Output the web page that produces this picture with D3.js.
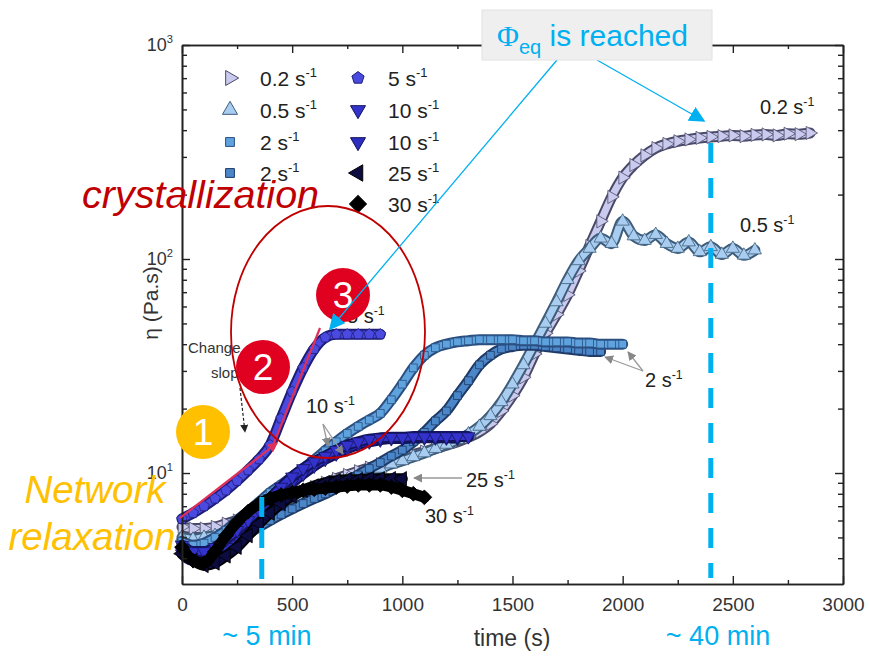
<!DOCTYPE html>
<html>
<head>
<meta charset="utf-8">
<script src="https://cdn.jsdelivr.net/npm/d3@7"></script>
<style>
  body { margin: 0; background: #fff; }
  svg { display: block; font-family: Arial, "Liberation Sans", sans-serif; }
</style>
</head>
<body>
<svg id="chart" width="869" height="658"></svg>
<script>
// sampling grid of the curves (s)
const timeGrid = [0, 50, 100, 150, 200, 250, 300, 350, 400, 450, 500, 550, 600, 650, 700, 750, 800, 850, 900, 950,
  1000, 1050, 1100, 1150, 1200, 1250, 1300, 1350, 1400, 1450, 1500, 1550, 1600, 1650, 1700, 1750, 1800, 1850, 1900, 1950,
  2000, 2050, 2100, 2150, 2200, 2250, 2300, 2350, 2400, 2450, 2500, 2550, 2600, 2650, 2700, 2750, 2800, 2850];

// viscosity (Pa.s)
const eta02 = [5.6, 5.5, 5.5, 5.6, 5.8, 6.0, 6.3, 6.6, 7.0, 7.4, 7.8, 8.2, 8.6, 9.0, 9.4, 9.8, 10.2, 10.6, 11.0, 11.4,
  11.8, 12.2, 12.6, 13.0, 13.5, 14.0, 14.7, 15.6, 17, 19.5, 23, 28, 36, 45, 55, 68, 88, 115, 150, 195,
  240, 275, 305, 330, 345, 355, 362, 368, 372, 375, 378, 375, 380, 382, 378, 385, 383, 388];
const eta05 = [5.0, 4.9, 5.0, 5.1, 5.3, 5.5, 5.8, 6.1, 6.5, 6.9, 7.3, 7.7, 8.1, 8.5, 8.9, 9.3, 9.7, 10.1, 10.5, 11.0,
  11.4, 11.9, 12.4, 13.0, 13.6, 14.3, 15.2, 16.5, 18.5, 21.5, 26, 32, 40, 50, 63, 80, 98, 112, 125, 118,
  150, 128, 122, 130, 118, 112, 120, 108, 114, 105, 112, 104, 110];
const eta2a = [4.8, 4.6, 4.7, 5.0, 5.4, 6.0, 6.6, 7.3, 8.1, 8.8, 9.6, 10.5, 11.5, 12.7, 14.0, 15.3, 16.5, 17.7, 19.0, 22,
  26, 31, 35.5, 38.5, 40, 41, 41.5, 42, 42, 42, 42, 41.5, 41.5, 41, 41, 41, 40.5, 40.5, 40, 40, 40];
const eta2b = [4.3, 4.1, 4.1, 4.3, 4.5, 4.8, 5.2, 5.6, 6.0, 6.4, 6.8, 7.2, 7.6, 8.0, 8.5, 9.1, 9.8, 10.5, 11.2, 12.0,
  12.8, 14.0, 15.5, 17.5, 19.5, 23, 27, 32, 35.5, 38, 39, 39.5, 39.5, 39, 38.5, 38, 37.5, 37, 37];
const eta5 = [6.1, 6.5, 7.0, 7.6, 8.3, 9.2, 10.3, 11.6, 13.5, 18, 24, 31, 38, 43, 44.5, 44.5, 44.5, 44.5, 44.5];
const eta10a = [4.6, 4.3, 4.3, 4.5, 4.9, 5.4, 6.0, 6.7, 7.6, 8.6, 9.6, 10.5, 11.3, 12.0, 12.8, 13.5, 14.0, 14.4, 14.6, 14.7,
  14.7, 14.8, 14.8, 14.8, 14.8, 14.8, 14.8];
const eta10b = [4.2, 3.9, 3.9, 4.1, 4.5, 5.0, 5.6, 6.3, 7.1, 8.0, 9.0, 9.9, 10.8, 11.6, 12.3, 13.0, 13.6, 14.0, 14.3, 14.5,
  14.5, 14.6, 14.6, 14.6, 14.6, 14.6];
const eta25 = [4.2, 3.9, 3.7, 3.8, 4.1, 4.5, 5.1, 5.8, 6.5, 7.2, 7.8, 8.3, 8.7, 9.0, 9.2, 9.3, 9.3, 9.4, 9.4, 9.4, 9.4];
const eta30 = [4.5, 3.9, 3.8, 4.3, 5.1, 5.9, 6.6, 7.2, 7.6, 7.9, 8.1, 8.3, 8.4, 8.5, 8.6, 8.7, 8.8, 8.8, 8.8, 8.6,
  8.3, 8.0, 7.7];

const legendRates = ['0.2', '0.5', '2', '2', '5', '10', '10', '25', '30'];
const xTicks = [0, 500, 1000, 1500, 2000, 2500, 3000];
const xMinor = [250, 750, 1250, 1750, 2250, 2750];
const yTicks = [10, 100, 1000];
const yMinor = [4, 5, 6, 7, 8, 9, 20, 30, 40, 50, 60, 70, 80, 90, 200, 300, 400, 500, 600, 700, 800, 900];

const svg = d3.select('#chart');
const x = d3.scaleLinear().domain([0, 3000]).range([182, 843]);
const y = d3.scaleLog().domain([3.03, 1000]).range([584, 45]);

// pentagon symbol
const pentagon = {
  draw(ctx, size) {
    const r = Math.sqrt(size / 2.378);
    for (let i = 0; i < 5; i++) {
      const a = -Math.PI / 2 + i * 2 * Math.PI / 5;
      if (i === 0) ctx.moveTo(r * Math.cos(a), r * Math.sin(a));
      else ctx.lineTo(r * Math.cos(a), r * Math.sin(a));
    }
    ctx.closePath();
  }
};

const series = [
  { eta: eta02, type: d3.symbolTriangle, rot: 90, fill: '#cacaee', stroke: '#4a4a68', size: 75 },
  { eta: eta05, type: d3.symbolTriangle, rot: 0, fill: '#a8cdf0', stroke: '#3e5d7a', size: 75 },
  { eta: eta2b, type: d3.symbolSquare, rot: 0, fill: '#4a86c8', stroke: '#1f3a66', size: 60 },
  { eta: eta2a, type: d3.symbolSquare, rot: 0, fill: '#5ea2de', stroke: '#2b4f80', size: 60 },
  { eta: eta10b, type: d3.symbolTriangle, rot: 180, fill: '#2d2dc0', stroke: '#12125a', size: 75 },
  { eta: eta10a, type: d3.symbolTriangle, rot: 180, fill: '#3333cc', stroke: '#14145e', size: 75 },
  { eta: eta25, type: d3.symbolTriangle, rot: -90, fill: '#0c0c40', stroke: '#000', size: 90 },
  { eta: eta30, type: d3.symbolSquare, rot: 45, fill: '#000', stroke: '#000', size: 110 },
  { eta: eta5, type: pentagon, rot: 0, fill: '#4a4ae0', stroke: '#1e1e78', size: 75 }
];

const defs = svg.append('defs');
function arrowMarker(id, color, w) {
  defs.append('marker').attr('id', id).attr('viewBox', '0 0 10 10')
    .attr('refX', 9).attr('refY', 5).attr('markerUnits', 'userSpaceOnUse')
    .attr('markerWidth', w).attr('markerHeight', w).attr('orient', 'auto')
    .append('path').attr('d', 'M0,0 L10,5 L0,10 z').attr('fill', color);
}
arrowMarker('arrCyan', '#00b0f0', 16);
arrowMarker('arrGray', '#888', 9);
arrowMarker('arrBlack', '#222', 8);
arrowMarker('arrRed', '#e0305a', 10);

// ---- data ----
const line = d3.line().x(d => x(d[0])).y(d => y(d[1])).curve(d3.curveMonotoneX);
const dataG = svg.append('g');
series.forEach(s => {
  const pts = s.eta.map((v, i) => [timeGrid[i], v]);
  const g = dataG.append('g');
  g.append('path').datum(pts).attr('d', line)
    .attr('fill', 'none').attr('stroke', s.stroke).attr('stroke-width', 11)
    .attr('stroke-linejoin', 'round').attr('stroke-linecap', 'round');
  g.append('path').datum(pts).attr('d', line)
    .attr('fill', 'none').attr('stroke', s.fill).attr('stroke-width', 7)
    .attr('stroke-linejoin', 'round');
  const sym = d3.symbol().type(s.type).size(s.size);
  g.selectAll('path.m').data(pts).join('path')
    .attr('class', 'm')
    .attr('transform', d => `translate(${x(d[0])},${y(d[1])}) rotate(${s.rot})`)
    .attr('d', sym)
    .attr('fill', s.fill).attr('stroke', s.stroke).attr('stroke-width', 0.8);
});

// ---- axes ----
const axisStyle = g => {
  g.selectAll('.domain').attr('stroke', '#222').attr('stroke-width', 1.6);
  g.selectAll('.tick line').attr('stroke', '#222').attr('stroke-width', 1.4);
  g.selectAll('.tick text').attr('fill', '#333').attr('font-size', 19)
    .attr('font-family', 'Arial, "Liberation Sans", sans-serif');
};
svg.append('g').attr('transform', 'translate(0,584)')
  .call(d3.axisBottom(x).tickValues(xTicks).tickSize(-8).tickSizeOuter(0).tickPadding(14).tickFormat(d3.format('d')))
  .call(axisStyle);
svg.append('g').attr('transform', 'translate(0,584)')
  .call(d3.axisBottom(x).tickValues(xMinor).tickSize(-4).tickSizeOuter(0).tickFormat(''))
  .call(axisStyle);
svg.append('g').attr('transform', 'translate(0,45)')
  .call(d3.axisTop(x).tickValues(xTicks).tickSize(-8).tickSizeOuter(0).tickFormat(''))
  .call(axisStyle);
svg.append('g').attr('transform', 'translate(0,45)')
  .call(d3.axisTop(x).tickValues(xMinor).tickSize(-4).tickSizeOuter(0).tickFormat(''))
  .call(axisStyle);
svg.append('g').attr('transform', 'translate(182,0)')
  .call(d3.axisLeft(y).tickValues(yTicks).tickSize(-8).tickSizeOuter(0).tickFormat(''))
  .call(axisStyle);
svg.append('g').attr('transform', 'translate(182,0)')
  .call(d3.axisLeft(y).tickValues(yMinor).tickSize(-5).tickSizeOuter(0).tickFormat(''))
  .call(axisStyle);
svg.append('g').attr('transform', 'translate(843,0)')
  .call(d3.axisRight(y).tickValues(yTicks).tickSize(-8).tickSizeOuter(0).tickFormat(''))
  .call(axisStyle);
svg.append('g').attr('transform', 'translate(843,0)')
  .call(d3.axisRight(y).tickValues(yMinor).tickSize(-5).tickSizeOuter(0).tickFormat(''))
  .call(axisStyle);

function supText(g, px, py, base, sup, size, anchor, color) {
  const t = g.append('text').attr('x', px).attr('y', py).attr('font-size', size)
    .attr('fill', color || '#222').attr('text-anchor', anchor || 'start');
  t.append('tspan').text(base);
  t.append('tspan').attr('font-size', size * 0.62).attr('dy', -size * 0.42).text(sup);
  return t;
}

const labelG = svg.append('g');
yTicks.forEach((v, i) => supText(labelG, 173, y(v) + 6, '10', String(i + 1), 18, 'end', '#333'));

labelG.append('text').attr('transform', 'translate(158,303) rotate(-90)')
  .attr('text-anchor', 'middle').attr('font-size', 21).attr('fill', '#333').text('η (Pa.s)');
labelG.append('text').attr('x', 512).attr('y', 646)
  .attr('text-anchor', 'middle').attr('font-size', 23).attr('fill', '#333').text('time (s)');

// ---- legend ----
const legendG = svg.append('g');
const legendPos = [[230, 78], [230, 110], [230, 142], [230, 173], [358, 78], [358, 110], [358, 142], [358, 173], [358, 204]];
const legendSeries = [0, 1, 3, 2, 8, 5, 4, 6, 7];
legendRates.forEach((r, i) => {
  const s = series[legendSeries[i]];
  const [lx, ly] = legendPos[i];
  legendG.append('path')
    .attr('transform', `translate(${lx},${ly}) rotate(${s.rot})`)
    .attr('d', d3.symbol().type(s.type).size(s.size * 1.3))
    .attr('fill', s.fill).attr('stroke', s.stroke).attr('stroke-width', 1);
  supText(legendG, lx + 30, ly + 8, r + ' s', '-1', 21, 'start', '#222');
});

// ---- curve labels ----
const annG = svg.append('g');
supText(annG, 760, 114, '0.2 s', '-1', 20);
supText(annG, 740, 232, '0.5 s', '-1', 20);
supText(annG, 645, 387, '2 s', '-1', 20);
supText(annG, 306, 413, '10 s', '-1', 20);
supText(annG, 466, 487, '25 s', '-1', 20);
supText(annG, 425, 523, '30 s', '-1', 20);
supText(annG, 347, 323, '5 s', '-1', 20);

const grayArrows = [
  [643, 371, 605, 357], [643, 371, 628, 352],
  [323, 424, 328, 446], [323, 424, 343, 454],
  [462, 478, 414, 478]
];
annG.selectAll('line.ga').data(grayArrows).join('line')
  .attr('x1', d => d[0]).attr('y1', d => d[1]).attr('x2', d => d[2]).attr('y2', d => d[3])
  .attr('stroke', '#999').attr('stroke-width', 1.3).attr('marker-end', 'url(#arrGray)');

// "Change of slope"
annG.append('text').attr('x', 188).attr('y', 353).attr('font-size', 15).attr('fill', '#333').text('Change of');
annG.append('text').attr('x', 211).attr('y', 378).attr('font-size', 15).attr('fill', '#333').text('slope');
annG.append('line').attr('x1', 240).attr('y1', 388).attr('x2', 245).attr('y2', 432)
  .attr('stroke', '#222').attr('stroke-width', 1.2).attr('stroke-dasharray', '3,2')
  .attr('marker-end', 'url(#arrBlack)');

// tangent lines on the 5 s-1 curve
annG.append('line').attr('x1', 180).attr('y1', 518).attr('x2', 277).attr('y2', 443)
  .attr('stroke', '#e0305a').attr('stroke-width', 2.2).attr('marker-end', 'url(#arrRed)');
annG.append('line').attr('x1', 272).attr('y1', 448).attr('x2', 320).attr('y2', 328)
  .attr('stroke', '#e0305a').attr('stroke-width', 2.2);

// ellipse + crystallization
annG.append('ellipse').attr('cx', 328).attr('cy', 332).attr('rx', 97).attr('ry', 126)
  .attr('fill', 'none').attr('stroke', '#c00000').attr('stroke-width', 1.8);
annG.append('text').attr('x', 82).attr('y', 208).attr('font-size', 39.5).attr('font-style', 'italic')
  .attr('fill', '#c00000').text('crystallization');
annG.append('text').attr('x', 95).attr('y', 503).attr('font-size', 38.5).attr('font-style', 'italic')
  .attr('text-anchor', 'middle').attr('fill', '#ffc000').text('Network');
annG.append('text').attr('x', 92).attr('y', 550).attr('font-size', 38.5).attr('font-style', 'italic')
  .attr('text-anchor', 'middle').attr('fill', '#ffc000').text('relaxation');

// numbered circles
const steps = [['1', 203, 432, '#ffc000'], ['2', 263, 367, '#e00020'], ['3', 343, 295, '#e00020']];
steps.forEach(([n, cx, cy, c]) => {
  annG.append('circle').attr('cx', cx).attr('cy', cy).attr('r', 27).attr('fill', c);
  annG.append('text').attr('x', cx).attr('y', cy + 13).attr('text-anchor', 'middle')
    .attr('font-size', 37).attr('fill', '#fff').text(n);
});

// cyan dashed markers at ~5 min and ~40 min
annG.append('line').attr('x1', x(362)).attr('x2', x(362)).attr('y1', 497).attr('y2', 584)
  .attr('stroke', '#00b0f0').attr('stroke-width', 5).attr('stroke-dasharray', '20,11');
annG.append('line').attr('x1', x(2400)).attr('x2', x(2400)).attr('y1', 143).attr('y2', 578)
  .attr('stroke', '#00b0f0').attr('stroke-width', 5).attr('stroke-dasharray', '20,15');
annG.append('text').attr('x', 267).attr('y', 645).attr('text-anchor', 'middle')
  .attr('font-size', 27).attr('fill', '#00b0f0').text('~ 5 min');
annG.append('text').attr('x', 718).attr('y', 645).attr('text-anchor', 'middle')
  .attr('font-size', 27).attr('fill', '#00b0f0').text('~ 40 min');

// Phi_eq box and arrows
annG.append('line').attr('x1', 597).attr('y1', 60).attr('x2', 704).attr('y2', 121)
  .attr('stroke', '#00b0f0').attr('stroke-width', 1.3).attr('marker-end', 'url(#arrCyan)');
annG.append('line').attr('x1', 557).attr('y1', 60).attr('x2', 330).attr('y2', 329)
  .attr('stroke', '#00b0f0').attr('stroke-width', 1.3).attr('marker-end', 'url(#arrCyan)');
annG.append('rect').attr('x', 482).attr('y', 10).attr('width', 230).attr('height', 50)
  .attr('fill', '#efefef').attr('stroke', '#e2e2e2');
const phi = annG.append('text').attr('x', 497).attr('y', 46).attr('fill', '#00b0f0').attr('font-size', 30);
phi.append('tspan').attr('font-family', '"Liberation Serif", "Times New Roman", serif').text('Φ');
phi.append('tspan').attr('font-size', 20).attr('dy', 8).text('eq');
phi.append('tspan').attr('dy', -8).text(' is reached');
</script>
</body>
</html>
